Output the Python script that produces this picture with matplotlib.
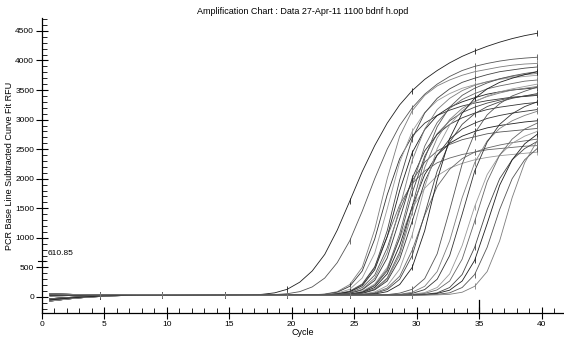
import matplotlib
matplotlib.use("Agg")
import matplotlib.pyplot as plt
import numpy as np
from matplotlib.ticker import MultipleLocator

plt.rcParams['font.family'] = ['Liberation Sans', 'DejaVu Sans']

cycles = np.arange(1, 41)
threshold = 610.85

# baseline shapes for cycles 1-17
base_a = [55, 48, 42, 38, 36, 36, 37, 38, 38, 38, 37, 36, 35, 34, 33, 32, 31]
base_b = [-70, -45, -22, -5, 8, 18, 26, 31, 34, 35, 35, 34, 33, 32, 31, 31, 30]
base_c = [-30, -15, -2, 10, 20, 27, 32, 35, 36, 36, 35, 34, 33, 32, 31, 30, 30]
base_d = [20, 22, 25, 28, 31, 33, 35, 36, 36, 36, 35, 34, 33, 32, 31, 30, 30]
base_e = [-50, -30, -12, 3, 15, 24, 30, 34, 36, 37, 36, 35, 34, 33, 32, 31, 30]
base_f = [40, 38, 36, 35, 35, 36, 37, 38, 38, 37, 36, 35, 34, 33, 32, 31, 30]
baselines = [base_a, base_b, base_c, base_d, base_e, base_f]

# cycles 18-40, fitted RFU
early_rises = [
    [45, 70, 130, 250, 440, 720, 1130, 1620, 2120, 2560, 2940, 3250, 3490, 3680, 3830, 3960, 4070, 4160, 4240, 4310, 4370, 4420, 4460],
    [35, 40, 55, 90, 170, 320, 580, 950, 1450, 2000, 2500, 2900, 3200, 3430, 3600, 3730, 3830, 3900, 3950, 3990, 4020, 4040, 4055],
]

main_rises = [
    [30, 30, 30, 30, 35, 50, 90, 210, 500, 1140, 2000, 2720, 3150, 3410, 3570, 3670, 3750, 3810, 3850, 3890, 3920, 3940, 3950],
    [30, 30, 30, 30, 35, 45, 80, 180, 440, 980, 1730, 2340, 2720, 2940, 3070, 3160, 3230, 3280, 3320, 3350, 3380, 3390, 3410],
    [30, 30, 30, 30, 30, 40, 65, 130, 320, 740, 1490, 2280, 2800, 3120, 3320, 3440, 3530, 3590, 3640, 3680, 3710, 3730, 3750],
    [30, 30, 30, 30, 30, 40, 55, 100, 220, 510, 1020, 1560, 1920, 2130, 2270, 2350, 2410, 2450, 2490, 2510, 2530, 2550, 2560],
    [30, 30, 30, 30, 30, 35, 50, 90, 210, 500, 1120, 1980, 2680, 3110, 3360, 3520, 3630, 3700, 3760, 3810, 3840, 3870, 3890],
    [30, 30, 30, 30, 30, 35, 50, 85, 190, 460, 1020, 1800, 2440, 2830, 3070, 3210, 3300, 3370, 3430, 3470, 3500, 3520, 3540],
    [30, 30, 30, 30, 30, 35, 45, 70, 160, 370, 830, 1460, 1970, 2280, 2470, 2580, 2660, 2710, 2760, 2790, 2810, 2830, 2850],
    [30, 30, 30, 30, 30, 30, 40, 65, 130, 320, 750, 1510, 2310, 2840, 3170, 3360, 3490, 3580, 3640, 3690, 3730, 3760, 3780],
    [30, 30, 30, 30, 30, 30, 40, 60, 120, 280, 660, 1320, 2010, 2470, 2750, 2920, 3030, 3110, 3170, 3210, 3240, 3270, 3290],
    [30, 30, 30, 30, 30, 30, 35, 50, 95, 220, 500, 990, 1500, 1840, 2050, 2180, 2260, 2320, 2360, 2390, 2410, 2430, 2450],
    [30, 30, 30, 30, 30, 30, 35, 50, 85, 200, 470, 1070, 1880, 2550, 2950, 3190, 3340, 3440, 3520, 3570, 3610, 3650, 3670],
    [30, 30, 30, 30, 30, 30, 35, 45, 80, 190, 440, 1000, 1760, 2380, 2760, 2980, 3120, 3210, 3280, 3330, 3370, 3400, 3420],
    [30, 30, 30, 30, 30, 30, 35, 45, 75, 160, 390, 870, 1530, 2070, 2400, 2600, 2720, 2800, 2860, 2900, 2930, 2960, 2980],
    [30, 30, 30, 30, 30, 30, 30, 40, 65, 135, 320, 760, 1530, 2340, 2880, 3210, 3410, 3530, 3620, 3690, 3740, 3780, 3810],
    [30, 30, 30, 30, 30, 30, 30, 40, 60, 130, 300, 710, 1430, 2190, 2690, 3000, 3190, 3310, 3390, 3450, 3500, 3530, 3560],
    [30, 30, 30, 30, 30, 30, 30, 40, 60, 120, 270, 640, 1280, 1950, 2400, 2670, 2840, 2940, 3020, 3070, 3110, 3140, 3170],
    [30, 30, 30, 30, 30, 30, 30, 35, 50, 85, 190, 470, 1050, 1860, 2510, 2910, 3150, 3300, 3400, 3470, 3520, 3560, 3600],
    [30, 30, 30, 30, 30, 30, 30, 35, 45, 70, 150, 350, 790, 1380, 1870, 2160, 2340, 2450, 2520, 2570, 2610, 2640, 2670],
    [30, 30, 30, 30, 30, 30, 30, 30, 40, 60, 125, 300, 700, 1400, 2130, 2620, 2920, 3100, 3220, 3300, 3360, 3400, 3440],
    [30, 30, 30, 30, 30, 30, 30, 30, 35, 50, 90, 210, 500, 1120, 1980, 2680, 3110, 3360, 3520, 3630, 3700, 3760, 3810],
]

late_rises = [
    [30] * 10 + [40, 65, 130, 310, 730, 1470, 2250, 2770, 3080, 3270, 3400, 3480, 3550],
    [30] * 10 + [35, 45, 80, 180, 430, 950, 1680, 2270, 2640, 2850, 2980, 3070, 3140],
    [30] * 11 + [40, 60, 125, 300, 700, 1400, 2130, 2620, 2920, 3100, 3220, 3300],
    [30] * 11 + [35, 45, 75, 160, 390, 870, 1530, 2070, 2400, 2600, 2720, 2800],
    [30] * 12 + [40, 60, 120, 270, 640, 1280, 1950, 2400, 2670, 2840, 2940],
    [30] * 12 + [35, 45, 70, 160, 380, 840, 1480, 2000, 2320, 2510, 2630],
    [30] * 13 + [40, 60, 115, 270, 620, 1240, 1890, 2320, 2590, 2750],
    [30] * 13 + [35, 45, 70, 160, 380, 840, 1480, 2000, 2320, 2510],
    [30] * 14 + [35, 45, 80, 180, 430, 950, 1680, 2270, 2640],
]

grays = ['#1e1e1e', '#555555', '#7d7d7d', '#333333', '#999999', '#666666', '#444444']

fig = plt.figure(figsize=(5.64, 3.38), dpi=100)
ax = fig.add_axes([0.074, 0.074, 0.926, 0.873])

x = cycles - 0.35
rises = early_rises + main_rises + late_rises
for i, r in enumerate(rises):
    y = baselines[i % len(baselines)] + r
    ax.plot(x, y, '-', color=grays[i % len(grays)], lw=0.6,
            marker='|', markevery=list(range(4, 40, 5)), ms=4, mew=0.6)

ax.set_xlim(0, 41.8)
ax.set_ylim(-271, 4720)
for s in ['top', 'right']:
    ax.spines[s].set_visible(False)
ax.spines['left'].set_linewidth(0.9)
ax.spines['bottom'].set_linewidth(0.9)

ax.xaxis.set_major_locator(MultipleLocator(5))
ax.xaxis.set_minor_locator(MultipleLocator(1))
ax.yaxis.set_major_locator(MultipleLocator(500))
ax.yaxis.set_minor_locator(MultipleLocator(100))
ax.set_yticks(np.arange(0, 4501, 500))
ax.tick_params(which='major', direction='inout', length=9, width=0.8, labelsize=6, pad=1)
ax.tick_params(which='minor', direction='in', length=3.5, width=0.6)

# threshold marker
ax.plot([-0.3, 0.3], [threshold, threshold], color='black', lw=0.8, clip_on=False)
ax.text(0.45, threshold + 60, f"{threshold:.2f}", fontsize=6, va='bottom', ha='left')
ax.plot([35, 35], [-50, -271], color='black', lw=0.9, clip_on=False)

ax.set_title("Amplification Chart : Data 27-Apr-11 1100 bdnf h.opd", fontsize=6.5, pad=3)
ax.set_xlabel("Cycle", fontsize=6.5, labelpad=0)
ax.set_ylabel("PCR Base Line Subtracted Curve Fit RFU", fontsize=6.5, labelpad=1)

fig.savefig("out.png", dpi=100)
